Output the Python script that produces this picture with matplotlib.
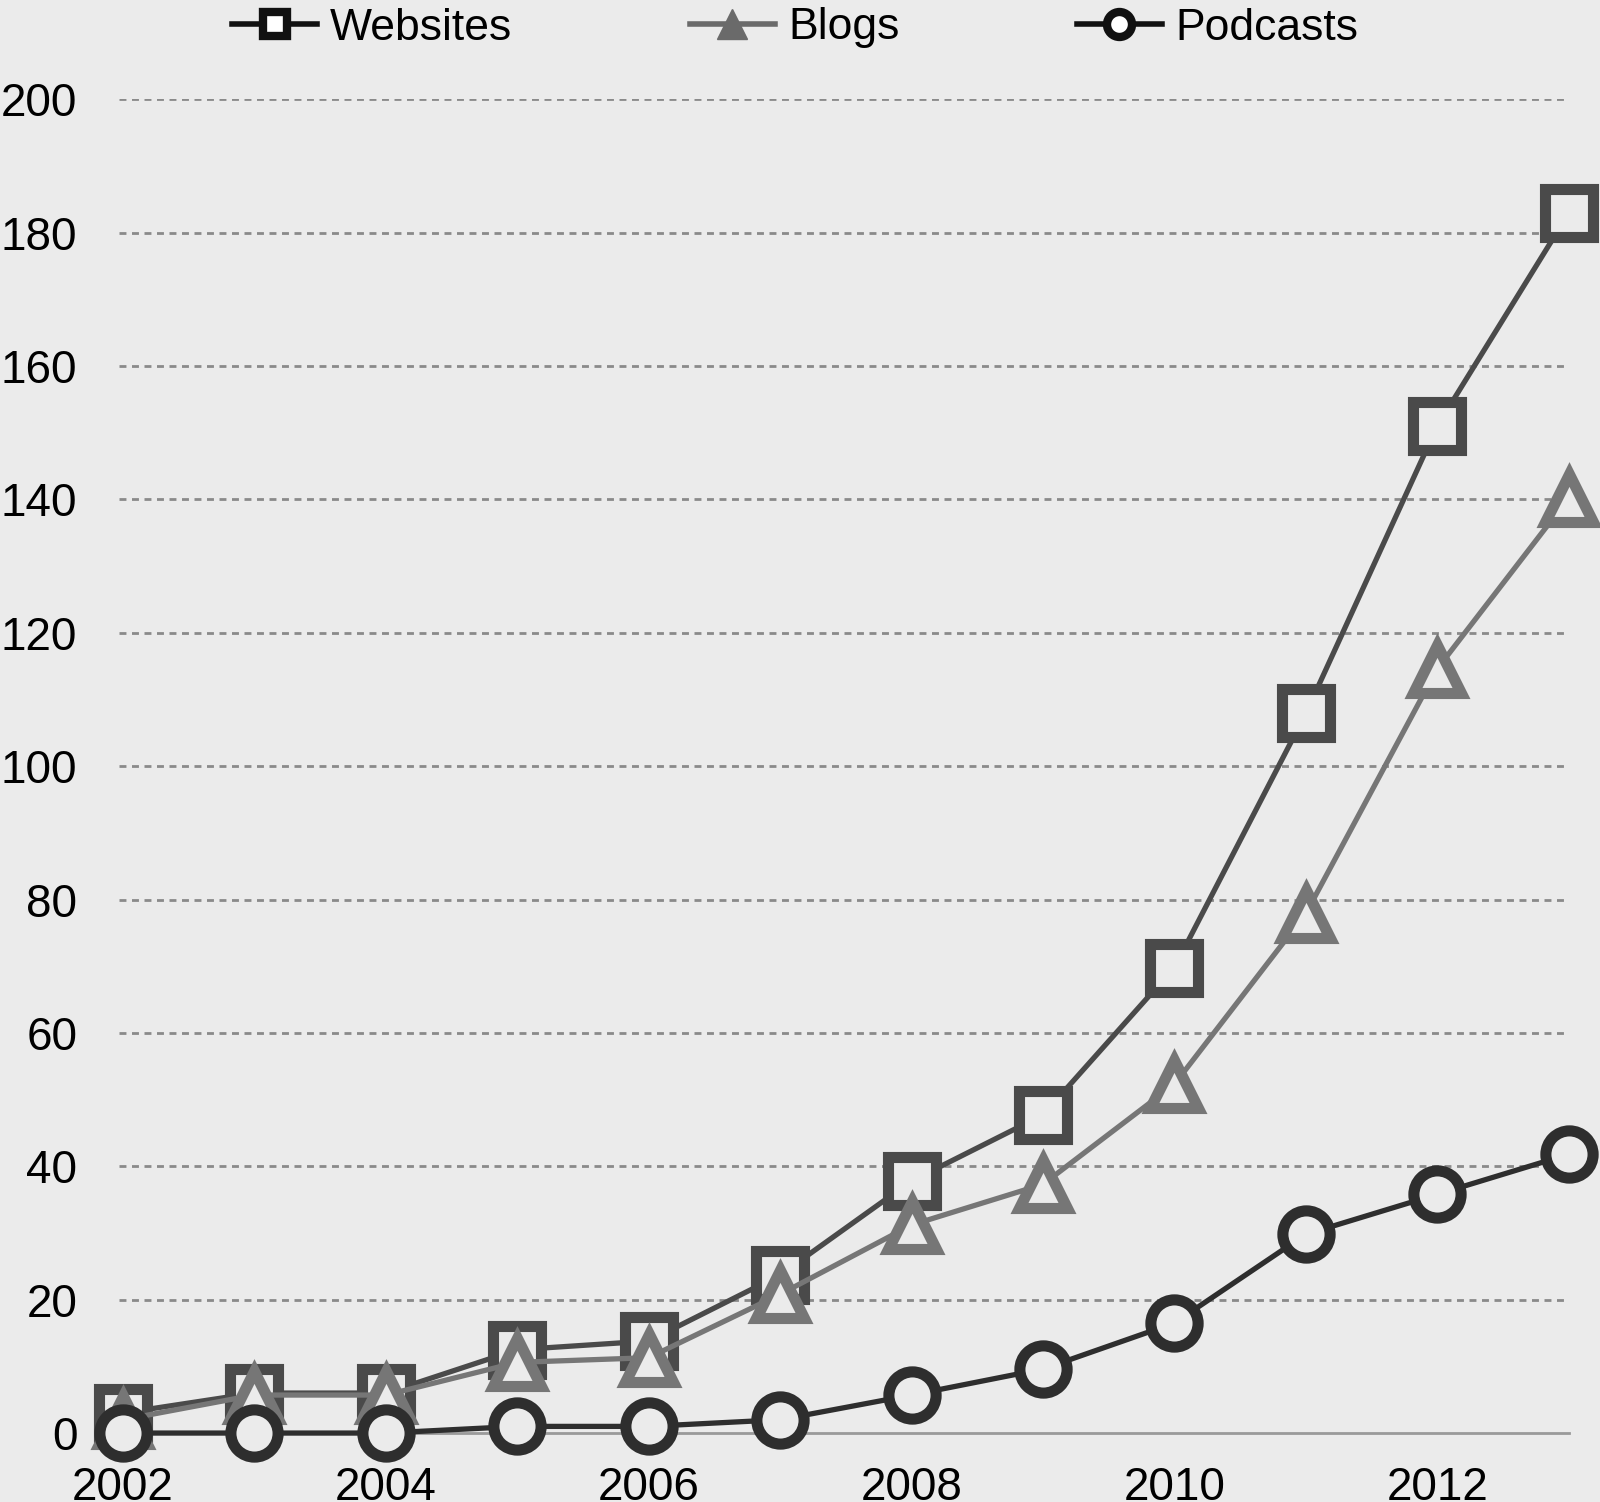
import matplotlib.pyplot as plt
from matplotlib.lines import Line2D

plt.rcParams['font.family'] = ['Liberation Sans', 'DejaVu Sans']

years = [2002, 2003, 2004, 2005, 2006, 2007, 2008, 2009, 2010, 2011, 2012, 2013]
websites = [3, 6, 6, 12.5, 13.8, 23.7, 37.8, 47.7, 69.8, 107.9, 151, 182.9]
blogs = [2, 5.7, 5.7, 10.6, 11.3, 20.8, 31.2, 37.3, 52.3, 77.9, 114.6, 140.2]
podcasts = [0, 0, 0, 1, 1, 2, 5.7, 9.6, 16.5, 29.8, 35.8, 41.8]
yticks = [0, 20, 40, 60, 80, 100, 120, 140, 160, 180, 200]
xticks = [2002, 2004, 2006, 2008, 2010, 2012]

bg = '#ebebeb'
fig = plt.figure(figsize=(16, 15.02), dpi=100, facecolor=bg)
ax = fig.add_axes([0.0744, 0.0459, 0.906, 0.888])
ax.set_facecolor(bg)

series = [
    (websites, 's', '#4a4a4a', 'Websites'),
    (blogs, '^', '#767676', 'Blogs'),
    (podcasts, 'o', '#2e2e2e', 'Podcasts'),
]
for vals, mk, col, name in series:
    ax.plot(years, vals, color=col, lw=3.8, marker=mk, ms=34, mew=8,
            mfc=bg, mec=col, clip_on=False, zorder=3)

ax.set_xlim(2001.97, 2013.0)
ax.set_ylim(0, 200)
ax.set_yticks(yticks)
ax.set_xticks(xticks)
ax.tick_params(length=0, labelsize=33, colors='black')
ax.tick_params(axis='y', pad=30)
ax.tick_params(axis='x', pad=24)

for y in yticks[1:]:
    ax.axhline(y, color='#8a8a8a', lw=2, ls=(0, (2.5, 2)), zorder=1)

for s in ['top', 'right', 'left']:
    ax.spines[s].set_visible(False)
ax.spines['bottom'].set_color('#9a9a9a')
ax.spines['bottom'].set_linewidth(2)

handles = [
    Line2D([], [], color='#111111', lw=4, marker='s', ms=17, mew=6, mfc='white', mec='#111111'),
    Line2D([], [], color='#6a6a6a', lw=4, marker='^', ms=21, mew=1, mfc='#6a6a6a', mec='#6a6a6a'),
    Line2D([], [], color='#111111', lw=4, marker='o', ms=18, mew=6, mfc='white', mec='#111111'),
]
fig.legend(handles, [s[3] for s in series], loc='center', ncol=3,
           bbox_to_anchor=(0.497, 1 - 28 / 1502), frameon=False, fontsize=32,
           handlelength=1.9, handletextpad=0.3, columnspacing=4.0,
           borderpad=0, borderaxespad=0)

fig.savefig('out.png', dpi=100, facecolor=bg)
